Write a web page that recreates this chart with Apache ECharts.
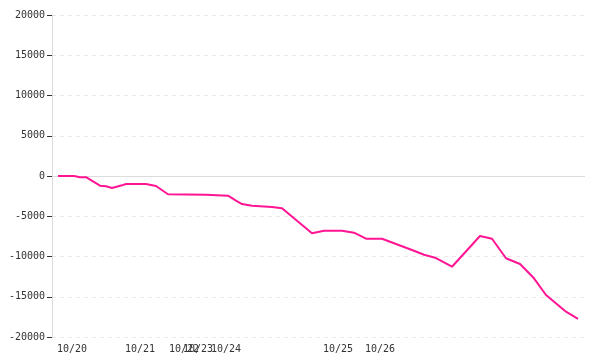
<!DOCTYPE html>
<html>
<head>
<meta charset="utf-8">
<script src="https://cdn.jsdelivr.net/npm/echarts@6/dist/echarts.min.js"></script>
<style>html,body{margin:0;padding:0;background:#fff}#c{width:600px;height:360px}</style>
</head>
<body>
<div id="c"></div>
<script>
// step index along the run (x) and cumulative value (y)
var steps = [0, 8, 11, 14, 21, 24, 27, 32, 34, 44, 49, 55, 74, 75, 85, 89, 92, 97, 107, 112, 113, 127, 133, 142, 148, 154, 162, 169, 178, 183, 189, 197, 211, 217, 224, 231, 238, 244, 254, 260];
var values = [0, 0, -150, -150, -1200, -1280, -1490, -1160, -1000, -1000, -1240, -2270, -2320, -2440, -2440, -3070, -3480, -3690, -3850, -4010, -4140, -7120, -6790, -6790, -7040, -7790, -7790, -8450, -9280, -9780, -10190, -11270, -7450, -7790, -10220, -10930, -12710, -14780, -16860, -17760];
// day labels and the step where each day starts
var dayLabels = ['10/20', '10/21', '10/22', '10/23', '10/24', '10/25', '10/26'];
var dayStarts = [7, 41, 63, 70, 84, 140, 161];

var seriesData = steps.map(function (s, i) { return [s, values[i]]; });
var font = 'DejaVu Sans Mono';
var chart = echarts.init(document.getElementById('c'), null, { renderer: 'canvas' });
chart.setOption({
  animation: false,
  backgroundColor: '#fff',
  grid: { left: 52, right: 15, top: 15, bottom: 23, containLabel: false, outerBoundsMode: 'none' },
  xAxis: {
    type: 'value',
    min: -3,
    max: 263.5,
    axisLine: { show: false, onZero: false },
    axisTick: { show: false },
    splitLine: { show: false },
    axisLabel: {
      customValues: dayStarts,
      margin: 7,
      color: '#333',
      fontFamily: font,
      fontSize: 10,
      hideOverlap: false,
      formatter: function (v) {
        var i = dayStarts.indexOf(v);
        return i >= 0 ? dayLabels[i] : '';
      }
    }
  },
  yAxis: {
    type: 'value',
    min: -20000,
    max: 20000,
    interval: 5000,
    axisLine: { show: true, onZero: false, lineStyle: { color: '#dcdcdc', width: 1 } },
    axisTick: { show: true, length: 5, lineStyle: { color: '#333' } },
    axisLabel: { margin: 7, color: '#333', fontFamily: font, fontSize: 10, formatter: function (v) { return String(v); } },
    splitLine: { show: true, lineStyle: { color: '#e8e8e8', type: [4, 4], width: 1 } }
  },
  series: [{
    type: 'line',
    data: seriesData,
    showSymbol: false,
    symbol: 'none',
    lineStyle: { color: '#ff1493', width: 2 },
    itemStyle: { color: '#ff1493' },
    markLine: {
      silent: true,
      symbol: 'none',
      label: { show: false },
      lineStyle: { color: '#dcdcdc', type: 'solid', width: 1 },
      data: [{ yAxis: 0 }],
      z: 1
    }
  }]
});
</script>
</body>
</html>
